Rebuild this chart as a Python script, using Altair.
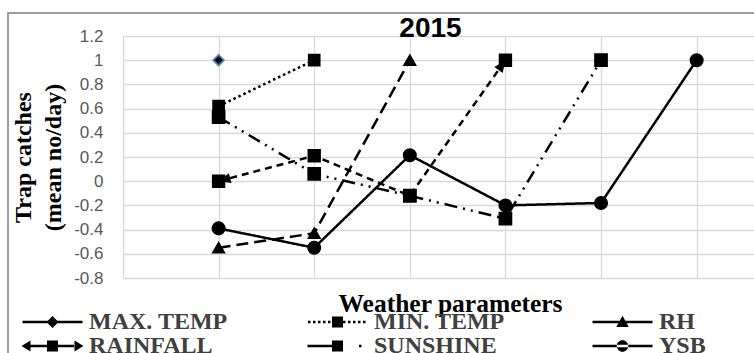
import math
import altair as alt
import pandas as pd

# ---- data ----
series_names = ["MAX. TEMP", "MIN. TEMP", "RH", "RAINFALL", "SUNSHINE", "YSB"]
param_index = [1, 2, 3, 4, 5, 6]
max_temp = [1.0]
min_temp = [0.62, 1.0]
rh = [-0.55, -0.43, 1.0]
rainfall = [0.0, 0.21, -0.12, 1.0]
sunshine = [0.53, 0.06, -0.12, -0.31, 1.0]
ysb = [-0.39, -0.55, 0.215, -0.20, -0.18, 1.0]
y_ticks = [-0.8, -0.6, -0.4, -0.2, 0, 0.2, 0.4, 0.6, 0.8, 1.0, 1.2]
x_grid = [0, 1, 2, 3, 4, 5, 6]

all_values = [max_temp, min_temp, rh, rainfall, sunshine, ysb]
rows = []
for name, vals in zip(series_names, all_values):
    for idx, v in zip(param_index, vals):
        rows.append({"series": name, "param": idx, "value": v})
df = pd.DataFrame(rows)

W, H = 631, 242
X_DOMAIN = [0, 6.6]
Y_DOMAIN = [-0.8, 1.2]
px_x = W / (X_DOMAIN[1] - X_DOMAIN[0])
px_y = H / (Y_DOMAIN[1] - Y_DOMAIN[0])


# arrowheads at both ends of the RAINFALL line (direction from the data)
def head_angle(p_from, p_to):
    dx = (p_to[0] - p_from[0]) * px_x
    dy = -(p_to[1] - p_from[1]) * px_y
    return math.degrees(math.atan2(dx, -dy)) % 360


rain_pts = list(zip(param_index, rainfall))
arrow_df = pd.DataFrame([
    {"param": rain_pts[0][0], "value": rain_pts[0][1],
     "angle": head_angle(rain_pts[1], rain_pts[0])},
    {"param": rain_pts[-1][0], "value": rain_pts[-1][1],
     "angle": head_angle(rain_pts[-2], rain_pts[-1])},
])

# ---- styles ----
dash_range = [[1, 0], [2.5, 3], [12, 6], [7, 5], [13, 6, 2, 6, 2, 6], [1, 0]]
plot_shapes = ["diamond", "square", "triangle-up", "square", "square", "circle"]
plot_strokes = ["#4a7ebb", "black", "black", "black", "black", "black"]
plot_sizes = [110, 150, 160, 150, 150, 150]
arrow_path = "M0,0L-0.85,2L0.85,2Z"


# legend glyphs (line sample + marker) drawn as filled path pieces, unit = 5 px
def seg(a, b):
    return f"M{a},-0.25H{b}V0.25H{a}Z"


solid = seg(-6, 6)
dots = "".join(seg(-5.9 + k, -5.4 + k) for k in range(12))
diamond = "M0,-1.2L1.2,0L0,1.2L-1.2,0Z"
square = "M-1.1,-1.1H1.1V1.1H-1.1Z"
triangle = "M0,-1.25L1.25,1H-1.25Z"
circle = "M-1.15,0A1.15,1.15,0,1,0,1.15,0A1.15,1.15,0,1,0,-1.15,0Z"
arrows = "M-6.2,0L-4.4,-1.1V1.1ZM6.2,0L4.4,-1.1V1.1Z" + seg(-4.5, 4.5)
dashdot = seg(-6, 0) + seg(4.3, 4.8)
legend_paths = [
    solid + diamond,
    dots + square,
    solid + triangle,
    arrows + square,
    dashdot + square,
    solid + circle,
]

x_enc = alt.X(
    "param:Q",
    scale=alt.Scale(domain=X_DOMAIN, nice=False, zero=False),
    axis=alt.Axis(
        values=x_grid, labels=False, ticks=False, domain=False,
        grid=True, gridColor="#d9d9d9", gridWidth=1.3,
        title="Weather parameters", titleFont="Liberation Serif",
        titleFontSize=25.5, titleFontWeight="bold", titleColor="black",
        titleX=327, titleY=33, titleBaseline="alphabetic", titleAlign="center",
    ),
)
y_enc = alt.Y(
    "value:Q",
    scale=alt.Scale(domain=Y_DOMAIN, nice=False, zero=False),
    axis=alt.Axis(
        values=y_ticks, ticks=False, domain=False, grid=True,
        gridColor="#d9d9d9", gridWidth=1.3,
        labelExpr="replace(format(datum.value, '~g'), '\u2212', '-')",
        labelFont="Liberation Sans", labelFontSize=17, labelColor="#595959",
        labelPadding=20,
        title=["Trap catches", "(mean no/day)"], titleFont="Liberation Serif",
        titleFontSize=24, titleFontWeight="bold", titleColor="black",
        titleLineHeight=30, titleX=-93, titleY=H / 2, titleAngle=-90,
        titleBaseline="alphabetic", titleAlign="center",
    ),
)

base = alt.Chart(df)

frame = alt.Chart(alt.Data(values=[{}])).mark_rect(
    fillOpacity=0, stroke="#7f7f7f", strokeWidth=1.5
).encode(
    x=alt.value(-115), x2=alt.value(W + 60),
    y=alt.value(-23), y2=alt.value(H + 200),
)

lines = base.mark_line(color="black", strokeWidth=2.5).encode(
    x=x_enc, y=y_enc,
    strokeDash=alt.StrokeDash(
        "series:N", scale=alt.Scale(domain=series_names, range=dash_range), legend=None
    ),
    order="param:Q",
)

heads = alt.Chart(arrow_df).mark_point(
    filled=True, fill="black", opacity=1, size=144, shape=arrow_path
).encode(
    x=x_enc, y=y_enc,
    angle=alt.Angle("angle:Q", scale=None),
)

points = base.mark_point(filled=True, fill="black", opacity=1, strokeWidth=1.8).encode(
    x=x_enc, y=y_enc,
    shape=alt.Shape("series:N", scale=alt.Scale(domain=series_names, range=plot_shapes), legend=None),
    stroke=alt.Stroke("series:N", scale=alt.Scale(domain=series_names, range=plot_strokes), legend=None),
    size=alt.Size("series:N", scale=alt.Scale(domain=series_names, range=plot_sizes), legend=None),
)

leg = alt.Legend(
    title=None, orient="none", legendX=-101, legendY=274, columns=3,
    direction="horizontal",
    gridAlign="all", columnPadding=79, rowPadding=0, padding=0,
    symbolSize=100, symbolStrokeWidth=0, symbolOffset=18.5,
    symbolOpacity=1, symbolFillColor="black", symbolStrokeColor="transparent",
    labelOffset=24.5, labelFont="Liberation Serif", labelFontSize=24,
    labelFontWeight="bold", labelColor="#404040", labelLimit=0,
)

legend_layer = base.mark_point(
    filled=True, fill="black", opacity=0
).encode(
    x=x_enc, y=y_enc,
    shape=alt.Shape("series:N", scale=alt.Scale(domain=series_names, range=legend_paths), legend=leg),
)

chart = alt.layer(frame, lines, heads, points, legend_layer).resolve_scale(
    shape="independent"
).properties(
    width=W, height=H,
    title=alt.TitleParams(
        "2015", font="Liberation Sans", fontSize=28, fontWeight="bold",
        color="black", anchor="middle", dx=-8, offset=-31,
    ),
    autosize=alt.AutoSizeParams(type="none"),
    padding={"left": 123, "top": 36, "right": 0, "bottom": 75},
).configure_view(stroke=None).configure(background="white")

chart.save("out.html", embed_options={"renderer": "svg", "actions": False})
